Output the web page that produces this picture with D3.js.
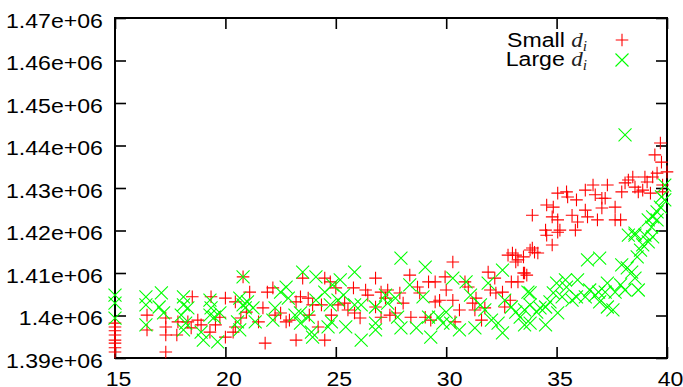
<!DOCTYPE html>
<html>
<head>
<meta charset="utf-8">
<script src="https://cdn.jsdelivr.net/npm/d3@7"></script>
<style>
  html, body { margin: 0; padding: 0; background: #fff; }
  svg { display: block; }
  text { font-family: "Liberation Sans", Arial, sans-serif; font-size: 21px; fill: #000; }
</style>
</head>
<body>
<div id="chart"></div>
<script>
// tick values
var xTicks = [15, 20, 25, 30, 35, 40];
var yTicks = [1390000, 1400000, 1410000, 1420000, 1430000, 1440000, 1450000, 1460000, 1470000];

// series "Small d_i"  [x, value]
var smallPts = [
  [15.0,1398200],[15.0,1397300],[15.0,1396400],[15.0,1395400],[15.0,1394200],[15.0,1393500],[15.0,1392400],[15.0,1391400],
  [16.45,1400100],[16.45,1396600],
  [17.3,1399400],[17.3,1397300],[17.3,1395400],[17.3,1391400],
  [17.85,1398500],[17.8,1395400],
  [18.5,1404400],[18.3,1398500],[18.45,1397100],[18.75,1398900],[18.9,1397800],
  [19.35,1404400],[19.3,1396100],[19.55,1397800],[20.0,1404100],[19.75,1399600],[20.0,1394900],
  [20.45,1403200],[20.45,1397300],[20.35,1396100],[20.8,1409100],[20.95,1400800],[20.7,1399400],[21.1,1405500],
  [21.5,1398500],[21.8,1393500],[21.7,1401800],[21.9,1405500],[22.15,1406500],[22.25,1400100],[22.5,1400600],
  [22.75,1398500],[22.9,1398900],[23.2,1394200],[23.2,1403200],[23.4,1404400],[23.5,1408800],[23.75,1404100],
  [23.8,1400100],[23.95,1402500],[24.2,1397300],[24.5,1408800],[24.5,1394200],[24.35,1402500],[24.75,1407900],
  [24.8,1400100],[25.0,1406500],[25.1,1402500],[25.4,1402900],[25.55,1401300],[25.8,1406500],[25.85,1400600],
  [26.1,1399400],[26.35,1406000],[26.45,1404800],[26.8,1408800],[26.8,1402000],[27.05,1405500],[27.05,1399600],
  [27.35,1406000],[27.45,1400100],[27.25,1404100],
  [27.7,1400600],[27.9,1405300],[28.05,1402900],[28.35,1409500],[28.4,1399600],[28.7,1406700],[28.8,1405300],
  [29.2,1407900],[29.05,1399600],[29.3,1398900],[29.5,1407900],[29.5,1403200],[29.7,1403600],[29.95,1409100],
  [30.0,1406000],[30.3,1412600],[30.3,1403600],[30.4,1398500],[30.6,1401300],[30.85,1407900],[31.0,1406700],
  [31.2,1402900],[31.3,1401300],[31.35,1404100],[31.6,1398900],[31.75,1401800],[31.9,1410200],[32.0,1406000],
  [32.2,1408800],[32.25,1405300],[32.55,1405500],[32.65,1402000],[32.8,1414200],[32.9,1403600],[32.95,1407900],
  [33.15,1414200],[33.15,1412600],[33.25,1407900],[33.55,1410000],[33.5,1413800],[33.8,1415400],
  [33.0,1414700],[33.25,1413100],[33.5,1410000],[33.9,1415900],[34.0,1414900],[34.5,1420100],[34.55,1418900],
  [34.8,1416600],[35.05,1419600],[34.15,1414700],[33.65,1409500],
  [33.9,1423600],[34.55,1426000],[34.85,1425500],[34.8,1423200],[35.05,1428800],[35.05,1422500],[35.15,1420100],
  [35.45,1429100],[35.5,1427900],[35.7,1423600],[35.85,1420100],[35.9,1427200],[35.95,1422000],[36.3,1429500],
  [36.3,1424800],[36.4,1423200],[36.65,1430700],[36.75,1428400],[36.85,1422500],[37.05,1427600],[37.05,1425300],
  [37.3,1430700],[37.2,1427600],[37.65,1425500],[37.65,1422500],[37.95,1429100],[37.9,1422500],[38.1,1431200],
  [38.25,1431900],[38.45,1432600],[38.55,1430200],[38.7,1429100],[38.9,1429500],[39.0,1432600],[39.1,1431400],
  [39.25,1428800],[39.35,1432600],[39.45,1437800],[39.55,1433500],[39.7,1440600],[39.75,1436100],[39.8,1430700],
  [40.0,1433800],[39.8,1429100]
];

// series "Large d_i"  [x, value]
var largePts = [
  [15.0,1404800],[15.0,1402900],[15.0,1399400],
  [16.4,1404400],[16.4,1402500],[16.4,1397800],
  [17.1,1405300],[17.0,1402000],[17.2,1400600],
  [18.1,1404400],[18.1,1402500],[18.0,1400100],[18.2,1398200],[18.1,1396600],[18.3,1401800],
  [18.9,1396100],[19.0,1394200],
  [19.3,1403600],[19.35,1401800],[19.3,1400100],[19.5,1399600],[19.75,1400600],[19.65,1393800],
  [20.65,1404100],[20.8,1402500],[20.55,1398500],[20.9,1401800],[20.65,1396600],[21.0,1403200],[20.8,1409100],
  [21.25,1401800],[21.35,1398500],[22.15,1398900],[22.25,1401800],[22.5,1405500],[22.75,1406700],[22.85,1404100],
  [23.15,1400100],[23.4,1400600],[23.4,1398200],[23.5,1410200],[23.75,1399600],[23.9,1396100],[23.95,1394900],
  [24.1,1409100],[24.1,1403600],[24.5,1405500],[24.75,1402500],[24.65,1397300],[24.8,1398500],[24.85,1407200],
  [25.2,1408400],[25.1,1403600],[25.35,1404800],[25.45,1397300],[25.85,1410200],[25.85,1402500],[26.15,1394200],
  [26.15,1402500],[26.8,1396600],[26.8,1398200],[26.8,1402000],[27.25,1404800],[27.35,1402900],
  [27.95,1413500],[29.05,1411400],[27.7,1404100],[27.8,1399600],[27.95,1397100],[28.35,1407200],[28.65,1397100],
  [28.95,1404400],[29.2,1399600],[29.3,1394900],[29.65,1399600],[29.85,1398200],[30.0,1400800],[30.3,1408800],
  [30.2,1398200],[30.6,1396600],[30.9,1407900],[31.1,1404800],[31.3,1397100],[31.55,1402500],[31.75,1401300],
  [31.9,1407600],[32.05,1398900],[32.35,1398200],[32.55,1410700],[32.55,1395900],[32.65,1403600],[32.95,1402000],
  [33.15,1400800],[33.35,1399600],[33.55,1401300],[33.8,1398200],[33.8,1405300],
  [36.4,1413100],[36.95,1413500],[37.95,1411900],[38.2,1411200],[38.4,1410200],[38.55,1419400],[38.8,1415400],
  [38.9,1416600],[39.15,1417300],[39.35,1418500],[38.65,1413800],[38.55,1408800],[38.7,1406000],[38.1,1406000],
  [37.9,1407200],[37.65,1405500],[37.55,1401300],[37.3,1407600],[37.2,1405500],[36.95,1403200],[36.75,1404800],
  [36.5,1406000],[36.3,1404400],[35.95,1408400],[35.9,1404400],[35.7,1403600],[35.45,1406700],[35.4,1408400],
  [35.25,1404400],[35.0,1407600],[34.85,1405300],[34.7,1403200],[34.5,1402000],[34.25,1401800],[34.1,1400800],
  [33.8,1402500],[33.7,1405500],[35.05,1400600],[34.5,1397800],[33.55,1397800],[37.3,1402000],[36.9,1405500],
  [38.1,1442500],[39.9,1430700],[39.75,1427900],[39.9,1427200],[39.7,1425500],[39.55,1424400],[39.35,1423200],
  [39.15,1422500],[39.55,1422500],[39.3,1420800],[38.55,1418900],[39.0,1418900],[38.25,1418900]
];

var W = 683, H = 387;
var margin = { top: 18, right: 16, bottom: 29, left: 115 };
var w = W - margin.left - margin.right,
  h = H - margin.top - margin.bottom;

var svg = d3.select("#chart").append("svg")
  .attr("width", W)
  .attr("height", H);

var g = svg.append("g")
  .attr("transform", "translate(" + margin.left + "," + margin.top + ")");

var x = d3.scaleLinear().domain([15, 40]).range([0, w]);
var y = d3.scaleLinear().domain([1390000, 1470000]).range([h, 0]);

function fmtY(d) {
  return +(d / 1e6).toFixed(2) + "e+06";
}

// axes, ticks point inward (gnuplot style, mirrored)
var gx = g.append("g").attr("transform", "translate(0," + h + ")")
  .call(d3.axisBottom(x).tickValues(xTicks).tickSize(-11).tickPadding(13).tickFormat(d3.format("d")));
var gx2 = g.append("g")
  .call(d3.axisTop(x).tickValues(xTicks).tickSize(-11).tickFormat(""));
var gy = g.append("g")
  .call(d3.axisLeft(y).tickValues(yTicks).tickSize(-11).tickPadding(11).tickFormat(fmtY));
var gy2 = g.append("g").attr("transform", "translate(" + w + ",0)")
  .call(d3.axisRight(y).tickValues(yTicks).tickSize(-11).tickFormat(""));

[gx, gx2, gy, gy2].forEach(function (a) {
  a.select(".domain").remove();
  a.selectAll("line").attr("stroke", "#000").attr("stroke-width", 1.6);
  a.selectAll("text").attr("font-size", null).attr("font-family", null);
});

gx.selectAll("text").attr("x", 2.7).attr("transform", "scale(1.1,1)");
gy.selectAll("text").attr("dy", "0.45em").attr("transform", "scale(1.1,1)");

g.append("rect")
  .attr("width", w)
  .attr("height", h)
  .attr("fill", "none")
  .attr("stroke", "#000")
  .attr("stroke-width", 2);

var plus = "M-6.3,0H6.3M0,-6.3V6.3";
var cross = "M-6.5,-6.5L6.5,6.5M-6.5,6.5L6.5,-6.5";

g.append("g").selectAll("path")
  .data(smallPts)
  .enter().append("path")
  .attr("d", plus)
  .attr("transform", function (d) { return "translate(" + x(d[0]) + "," + y(d[1]) + ")"; })
  .attr("fill", "none")
  .attr("stroke", "#ff0000")
  .attr("stroke-width", 1.1);

g.append("g").selectAll("path")
  .data(largePts)
  .enter().append("path")
  .attr("d", cross)
  .attr("transform", function (d) { return "translate(" + x(d[0]) + "," + y(d[1]) + ")"; })
  .attr("fill", "none")
  .attr("stroke", "#00ff00")
  .attr("stroke-width", 1.1);

// legend
var legend = [
  { name: "Small", path: plus, color: "#ff0000" },
  { name: "Large", path: cross, color: "#00ff00" }
];
legend.forEach(function (l, i) {
  var t = svg.append("text")
    .attr("transform", "translate(587," + (47 + i * 18.5) + ") scale(1.1,1)")
    .attr("text-anchor", "end");
  t.append("tspan").text(l.name + " ");
  t.append("tspan")
    .attr("font-family", "'Liberation Serif', 'DejaVu Serif', serif")
    .attr("font-style", "italic")
    .attr("fill", "#222")
    .text("d");
  t.append("tspan")
    .attr("font-family", "'Liberation Serif', 'DejaVu Serif', serif")
    .attr("font-style", "italic")
    .attr("font-size", "14px")
    .attr("fill", "#222")
    .attr("dy", 4)
    .text("i");
  svg.append("path")
    .attr("d", l.path)
    .attr("transform", "translate(622," + (40 + i * 20) + ")")
    .attr("fill", "none")
    .attr("stroke", l.color)
    .attr("stroke-width", 1.1);
});
</script>
</body>
</html>
